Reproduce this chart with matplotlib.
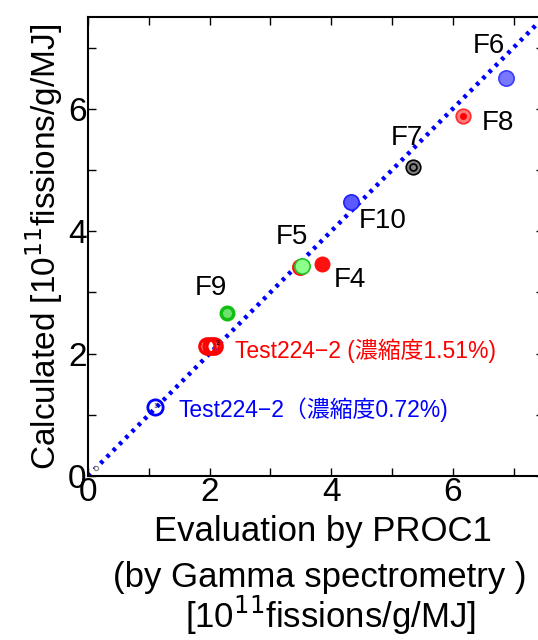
import matplotlib
matplotlib.use("Agg")
import matplotlib.pyplot as plt
import numpy as np

plt.rcParams['font.family'] = ['Liberation Sans', 'Noto Sans CJK JP', 'DejaVu Sans']

# fission rates, 10^11 fissions/g/MJ : (PROC1 evaluation, calculated)
fuel_names = ['F6', 'F8', 'F7', 'F10', 'F5', 'F4', 'F9']
fuel_eval = [6.87, 6.16, 5.34, 4.33, 3.52, 3.85, 2.28]
fuel_calc = [6.51, 5.89, 5.05, 4.48, 3.43, 3.46, 2.67]
f5_red_eval, f5_red_calc = 3.48, 3.41

test151_eval = [1.95, 2.02, 2.08]
test151_calc = [2.12, 2.12, 2.12]
test072_eval = [1.11]
test072_calc = [1.13]

fig = plt.figure(figsize=(5.38, 6.40), dpi=100)
ax = fig.add_axes([88 / 538, 164 / 640, 456 / 538, 459 / 640])
ax.set_xlim(0, 7.5)
ax.set_ylim(0, 7.5)

# 1:1 line
ax.plot([0, 7.5], [0, 7.5], color='#0000ff', lw=3.2, ls=(0, (0.8, 1.2)), zorder=1)

# tiny reference point near origin
ax.plot([0.13], [0.13], 'o', ms=3, mfc='white', mec='gray', mew=0.8, zorder=2)

style = {
    'F6': dict(mfc='#7878ff', mec='#3c3cff', ms=11, mew=1.2),
    'F8': dict(mfc='#ff7a7a', mec='#ff2a2a', ms=10.5, mew=1.2),
    'F7': dict(mfc='#808080', mec='black', ms=10.5, mew=1.2),
    'F10': dict(mfc='#5a5aff', mec='#2020ff', ms=11, mew=1.2),
    'F5': dict(mfc='#8cff8c', mec='#20c020', ms=11, mew=1.2),
    'F4': dict(mfc='#ff1010', mec='#ff1010', ms=10.5, mew=1),
    'F9': dict(mfc='#70e070', mec='#10c010', ms=9, mew=2.5),
}

# red F5 point sits just behind the green one
ax.plot([f5_red_eval], [f5_red_calc], 'o', ms=11, mfc='#ff3030', mec='#ff1010',
        mew=1.2, zorder=3)
for name, xv, yv in zip(fuel_names, fuel_eval, fuel_calc):
    ax.plot([xv], [yv], 'o', zorder=4, **style[name])

# inner marks
ax.plot([fuel_eval[1]], [fuel_calc[1]], 'o', ms=4, mfc='#ff0000', mec='#ff0000', zorder=5)
ax.plot([fuel_eval[2]], [fuel_calc[2]], 'o', ms=5, mfc='#808080', mec='black',
        mew=1.2, zorder=5)

ax.plot(test151_eval, test151_calc, 'o', ms=11, mfc='none', mec='#ff0000', mew=2.4, zorder=4)
ax.plot(test072_eval, test072_calc, 'o', ms=11, mfc='none', mec='#0000ff', mew=2, zorder=4)
ax.text(test151_eval[-1] + 0.02, test151_calc[-1] + 0.02, '3', fontsize=5, zorder=6)
ax.text(test072_eval[0], test072_calc[0], '1', fontsize=5, ha='center', va='center',
        color='#404040', zorder=6)

label_pos = {
    'F6': (6.59, 7.02), 'F8': (6.74, 5.77), 'F7': (5.25, 5.52), 'F10': (4.84, 4.16),
    'F5': (3.36, 3.90), 'F4': (4.31, 3.21), 'F9': (2.03, 3.08),
}
for name in fuel_names:
    lx, ly = label_pos[name]
    ax.text(lx, ly, name, fontsize=20, ha='center', va='center')

ax.text(2.41, 2.05, 'Test224\u22122 (濃縮度1.51%)', fontsize=16.5, color='#ff0000',
        va='center', ha='left')
ax.text(1.49, 1.08, 'Test224\u22122（濃縮度0.72%)', fontsize=16.5, color='#0000ff',
        va='center', ha='left')

ax.set_xticks([0, 2, 4, 6])
ax.set_yticks([0, 2, 4, 6])
ax.set_xticks([1, 3, 5, 7], minor=True)
ax.set_yticks([1, 3, 5, 7], minor=True)
ax.tick_params(which='both', direction='in', top=True, right=True, labelsize=24,
               width=1, pad=1)
ax.tick_params(which='major', length=6)
ax.tick_params(which='minor', length=6)
for sp in ax.spines.values():
    sp.set_linewidth(1.5)

ax.set_ylabel('Calculated [10$^{11}$fissions/g/MJ]', fontsize=24, labelpad=2)
fig.text(323 / 538, 1 - 532 / 640, 'Evaluation by PROC1', fontsize=25,
         ha='center', va='center')
fig.text(320 / 538, 1 - 578 / 640, '(by Gamma spectrometry )', fontsize=25,
         ha='center', va='center')
fig.text(330 / 538, 1 - 615 / 640, '[10$^{11}$fissions/g/MJ]', fontsize=25,
         ha='center', va='center')

fig.savefig('out.png', dpi=100)
